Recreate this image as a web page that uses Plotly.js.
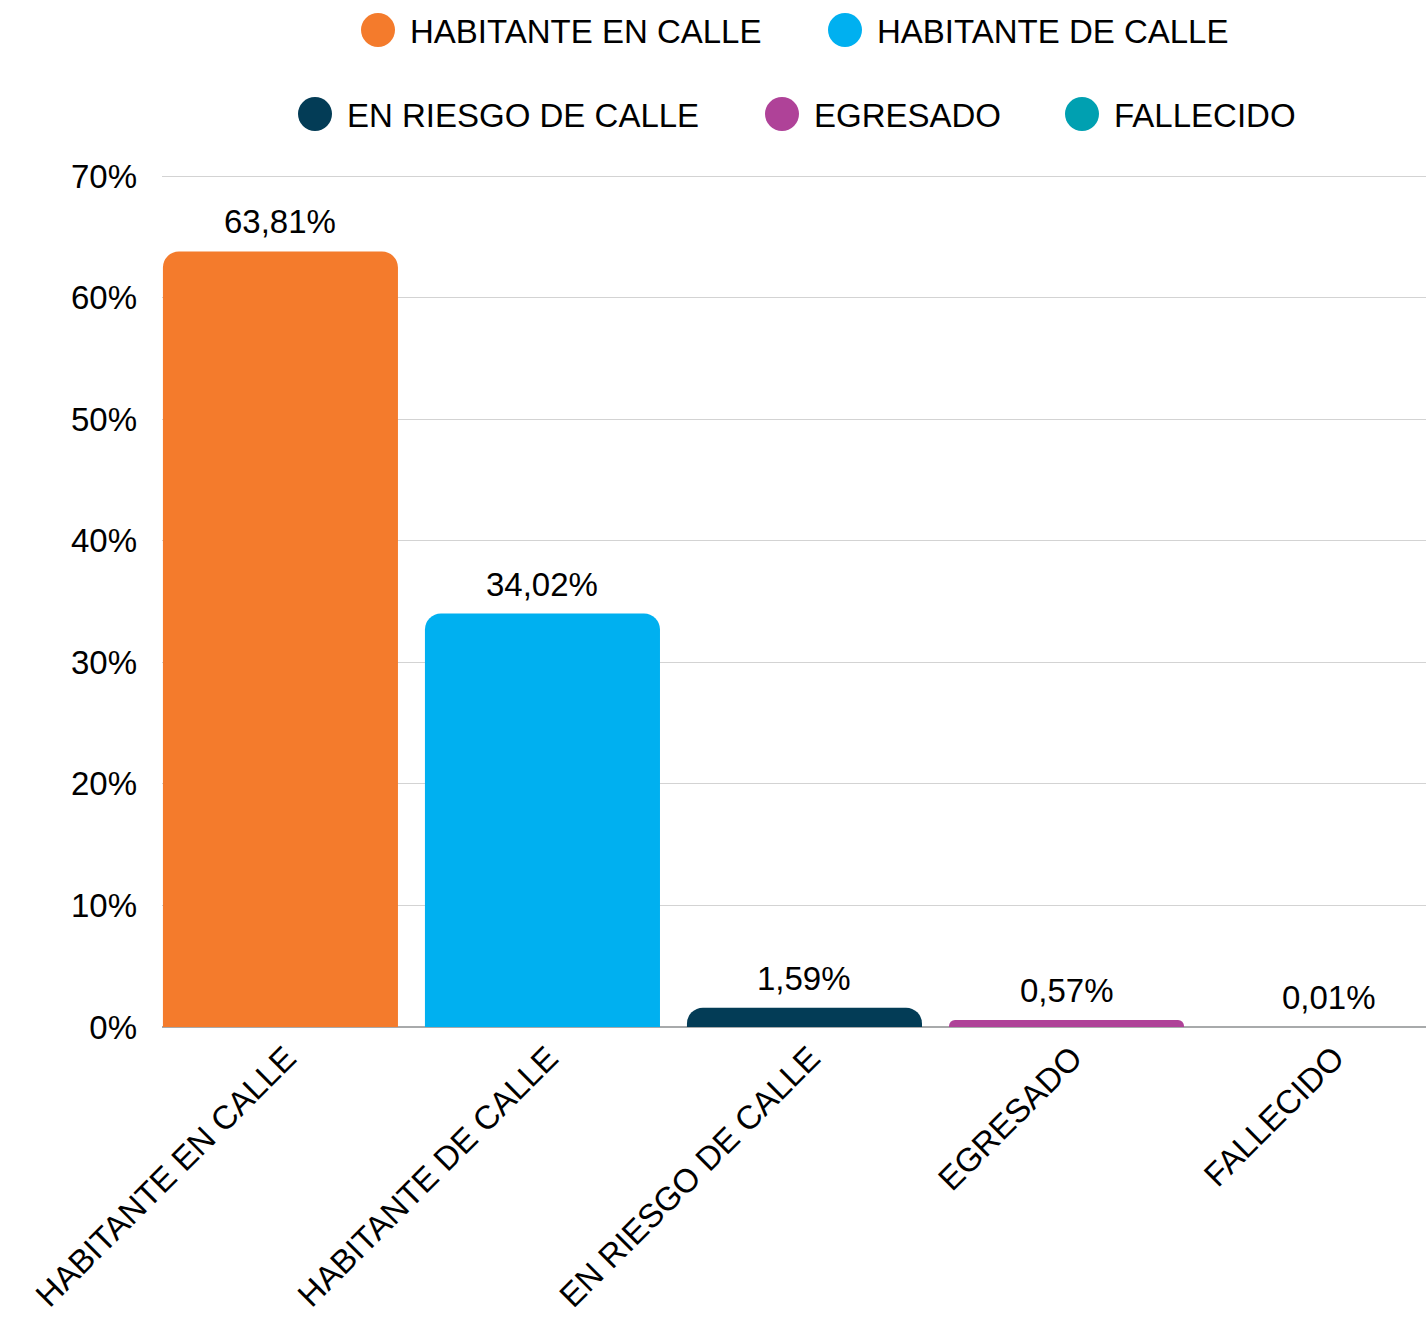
<!DOCTYPE html>
<html>
<head>
<meta charset="utf-8">
<script src="https://cdn.plot.ly/plotly-3.0.1.min.js"></script>
<style>
html,body{margin:0;padding:0;background:#ffffff;}
#chart{width:1426px;height:1318px;}
</style>
</head>
<body>
<div id="chart"></div>
<script>
// ---- data ----
const categories = ["HABITANTE EN CALLE", "HABITANTE DE CALLE", "EN RIESGO DE CALLE", "EGRESADO", "FALLECIDO"];
const values = [63.81, 34.02, 1.59, 0.57, 0.01];
const valueLabels = ["63,81%", "34,02%", "1,59%", "0,57%", "0,01%"];
const colors = ["#F47B2C", "#00B0F0", "#033C56", "#AF4298", "#00A0B1"];
const yTickVals = [0, 10, 20, 30, 40, 50, 60, 70];
const yTickText = ["0%", "10%", "20%", "30%", "40%", "50%", "60%", "70%"];

// legend text start x (px) and centre y (px) for each entry
const legendTextX = [410, 877, 347, 814, 1114];
const legendRowY = [30, 30, 114, 114, 114];

const W = 1426, H = 1318;
const FONT = "Liberation Sans, Arial, sans-serif";

const traces = categories.map((c, i) => ({
  type: "bar",
  name: c,
  x: [c],
  y: [values[i]],
  width: 0.897,
  marker: { color: colors[i], cornerradius: 16 },
  showlegend: true,
  legend: i === 0 ? "legend" : "legend" + (i + 1),
  hoverinfo: "none"
}));

const layout = {
  width: W, height: H,
  paper_bgcolor: "#ffffff",
  plot_bgcolor: "rgba(0,0,0,0)",
  margin: { l: 162, r: 0, t: 175, b: 291, pad: 0 },
  font: { family: FONT, size: 33, color: "#000000" },
  separators: ",.",
  barmode: "overlay",
  xaxis: {
    type: "category",
    categoryarray: categories,
    range: [-0.452, 4.372],
    tickangle: -45,
    tickfont: { size: 33, color: "#000000" },
    ticklabelshift: 6,
    ticklabelstandoff: 4,
    showgrid: false,
    showline: false,
    ticks: "",
    zeroline: false
  },
  yaxis: {
    range: [0, 70.1],
    tickvals: yTickVals,
    ticktext: yTickText,
    tickfont: { size: 33, color: "#000000" },
    showgrid: true,
    gridcolor: "#d3d3d3",
    gridwidth: 1,
    zeroline: true,
    zerolinecolor: "#a8aaab",
    zerolinewidth: 2,
    ticks: "",
    ticklabelstandoff: 24,
    showline: false
  },
  annotations: categories.map((c, i) => ({
    x: c, y: values[i], xref: "x", yref: "y",
    text: valueLabels[i],
    showarrow: false,
    yanchor: "bottom",
    yshift: 9,
    font: { family: FONT, size: 33, color: "#000000" }
  }))
};

categories.forEach((c, i) => {
  const key = i === 0 ? "legend" : "legend" + (i + 1);
  layout[key] = {
    xref: "container", yref: "container",
    x: (legendTextX[i] - 40) / W,
    y: 1 - legendRowY[i] / H,
    xanchor: "left", yanchor: "middle",
    orientation: "h",
    bgcolor: "rgba(0,0,0,0)",
    borderwidth: 0,
    font: { family: FONT, size: 33, color: "#000000" }
  };
});

Plotly.newPlot("chart", traces, layout, { displayModeBar: false, staticPlot: true }).then(() => {
  const root = document.getElementById("chart");
  root.querySelectorAll(".infolayer [clip-path]").forEach(el => el.removeAttribute("clip-path"));
  root.querySelectorAll(".infolayer .legendpoints path").forEach(p => {
    p.setAttribute("d", "M17,0A17,17 0 1,1 0,-17A17,17 0 0,1 17,0Z");
    p.setAttribute("transform", "translate(8,0)");
    p.style.strokeWidth = "0px";
  });
});
</script>
</body>
</html>
